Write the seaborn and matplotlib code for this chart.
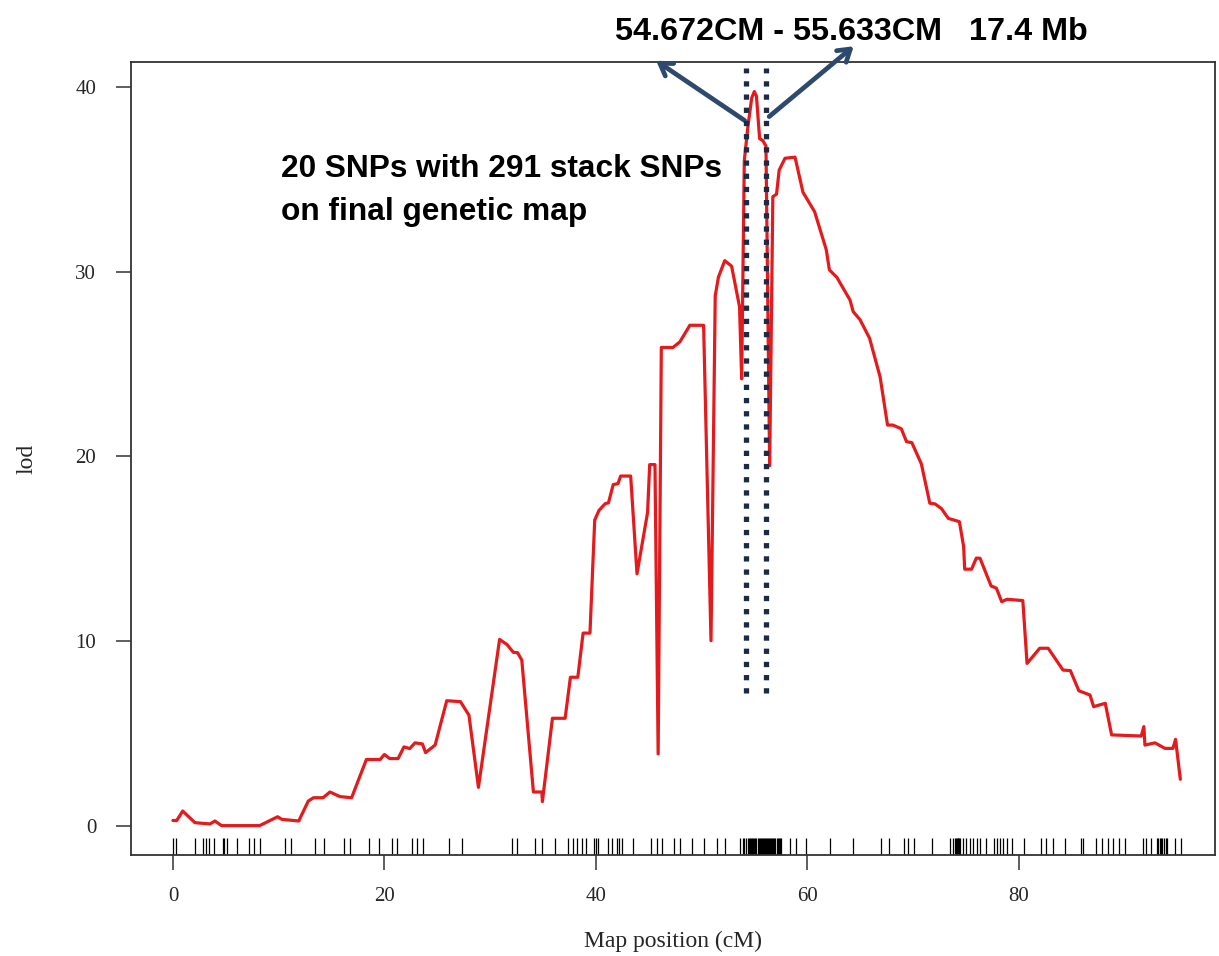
import numpy as np
import pandas as pd
import seaborn as sns
import matplotlib.pyplot as plt

# lod profile (map position in cM, lod)
pos = [0.0, 0.35, 0.92, 2.08, 3.5, 3.97, 4.6, 8.2, 9.9, 10.3, 11.9, 12.8, 13.3, 14.2,
       14.85, 15.8, 16.9, 18.3, 19.6, 20.0, 20.5, 21.3, 21.85, 22.4, 22.9, 23.6, 23.9,
       24.8, 25.9, 27.2, 28.0, 28.9, 30.9, 31.6, 32.2, 32.6, 33.0, 34.1, 34.9, 34.95,
       35.9, 37.1, 37.6, 38.3, 38.8, 39.45, 39.9, 40.3, 40.9, 41.2, 41.65, 42.1, 42.35,
       43.3, 43.9, 44.9, 45.1, 45.6, 45.9, 46.2, 47.3, 47.95, 48.9, 50.2, 50.9, 51.3,
       51.6, 52.2, 52.85, 53.6, 53.8, 54.05, 54.4, 54.75, 55.0, 55.2, 55.5, 55.8, 56.1,
       56.45, 56.75, 57.1, 57.35, 57.9, 58.85, 59.6, 60.7, 61.8, 62.1, 62.8, 64.05,
       64.35, 65.0, 65.9, 66.9, 67.6, 68.1, 68.9, 69.4, 69.9, 70.8, 71.6, 72.1, 72.7,
       73.35, 74.4, 74.8, 74.9, 75.55, 76.0, 76.35, 77.4, 77.9, 78.4, 78.9, 80.4, 80.8,
       82.0, 82.8, 84.2, 84.9, 85.7, 86.75, 87.1, 88.2, 88.8, 91.6, 91.85, 91.95, 92.9,
       93.85, 94.6, 94.85, 95.3]
lod = [0.30, 0.29, 0.81, 0.18, 0.11, 0.27, 0.02, 0.02, 0.50, 0.36, 0.27, 1.35, 1.53, 1.53,
       1.84, 1.59, 1.53, 3.60, 3.60, 3.87, 3.65, 3.65, 4.28, 4.19, 4.50, 4.44, 3.97,
       4.38, 6.78, 6.73, 6.00, 2.09, 10.1, 9.82, 9.4, 9.38, 8.98, 1.84, 1.84, 1.32,
       5.83, 5.83, 8.05, 8.05, 10.44, 10.44, 16.56, 17.08, 17.45, 17.49, 18.48, 18.53, 18.94,
       18.94, 13.65, 16.97, 19.56, 19.56, 3.9, 25.9, 25.9, 26.2, 27.1, 27.1, 10.03, 28.7,
       29.7, 30.6, 30.3, 28.1, 24.2, 36.0, 37.9, 39.4, 39.75, 39.5, 37.2, 37.1, 36.8,
       19.5, 34.06, 34.2, 35.5, 36.14, 36.2, 34.3, 33.25, 31.2, 30.1, 29.7, 28.47,
       27.84, 27.4, 26.4, 24.3, 21.7, 21.7, 21.5, 20.8, 20.75, 19.6, 17.47, 17.43, 17.18,
       16.65, 16.47, 15.12, 13.9, 13.9, 14.5, 14.49, 12.99, 12.87, 12.14, 12.27, 12.2, 8.8,
       9.62, 9.62, 8.44, 8.41, 7.32, 7.09, 6.46, 6.64, 4.93, 4.87, 5.38, 4.38, 4.5,
       4.2, 4.2, 4.69, 2.53]

# marker positions (rug along the x axis)
markers = [0.0, 0.27, 2.1, 2.88, 3.11, 3.38, 3.86, 4.74, 4.87, 5.08, 6.09, 7.17, 7.68, 8.26,
           10.56, 11.17, 13.43, 14.28, 16.21, 16.72, 18.51, 19.53, 20.71, 21.22, 22.57,
           23.08, 23.69, 26.12, 27.31, 32.05, 32.55, 34.25, 34.92, 36.18, 37.36, 37.8,
           38.24, 38.65, 39.05, 39.83, 40.0, 40.17, 41.18, 41.52, 42.03, 42.2, 42.44,
           43.55, 45.25, 45.75, 46.26, 47.44, 47.95, 49.1, 50.24, 51.45, 52.27, 53.64,
           53.9, 54.06, 54.22, 54.4, 54.5, 54.6, 54.7, 54.8, 54.9, 55.0, 55.1, 55.2, 55.3,
           55.4, 55.5, 55.6, 55.7, 55.8, 55.9, 56.0, 56.1, 56.2, 56.3, 56.4, 56.5, 56.6,
           56.7, 56.8, 56.9, 57.0, 57.1, 57.2, 57.3, 57.4, 57.5, 58.4, 58.96, 59.84,
           62.12, 64.34, 67.01, 67.77, 69.17, 69.56, 70.15, 71.78, 73.47, 73.8, 74.03,
           74.1, 74.17, 74.24, 74.31, 74.38, 74.45, 74.78, 75.04, 75.37, 75.69, 76.02,
           76.35, 76.9, 77.65, 77.98, 78.2, 78.53, 78.86, 79.35, 80.49, 82.12, 82.61,
           83.26, 84.4, 85.87, 86.13, 87.34, 87.9, 88.48, 88.97, 89.46, 90.11, 91.75,
           92.07, 92.56, 93.05, 93.2, 93.35, 93.5, 93.6, 93.75, 93.9, 94.03, 94.84, 95.33]

interval = [54.25, 56.1]   # dotted lines around the peak
x_ticks = [0, 20, 40, 60, 80]
y_ticks = [0, 10, 20, 30, 40]

df = pd.DataFrame({"pos": pos, "lod": lod})

sns.set_theme(style="white")
plt.rcParams["font.family"] = ["Liberation Serif", "DejaVu Serif"]

fig = plt.figure(figsize=(12.19, 9.56), dpi=100)
ax = fig.add_axes([131 / 1219, 101 / 956, 1084 / 1219, 793 / 956])

sns.lineplot(data=df, x="pos", y="lod", sort=False, estimator=None,
             color="#e41a1c", linewidth=2.3, ax=ax)
sns.rugplot(x=markers, height=0.021, color="black", linewidth=0.9,
            expand_margins=False, ax=ax)

# peak interval
for xv in interval:
    ax.plot([xv, xv], [7.2, 41.0], color="#1c2b45", linewidth=3.8,
            linestyle=(0, (1, 1.5)), clip_on=False, zorder=4)

arrow = dict(arrowstyle="->,head_length=0.7,head_width=0.45", color="#2d4a6e", lw=3.4)
ax.annotate("", xy=(45.5, 41.5), xytext=(54.3, 38.1), arrowprops=arrow,
            annotation_clip=False)
ax.annotate("", xy=(64.6, 42.3), xytext=(56.2, 38.3), arrowprops=arrow,
            annotation_clip=False)

ax.set_xlim(-3.97, 98.58)
ax.set_ylim(-1.57, 41.35)
ax.set_xticks(x_ticks)
ax.set_yticks(y_ticks)
ax.tick_params(axis="both", direction="out", length=11, width=1.1, color="#333333",
               labelsize=15, bottom=True, left=True)
ax.tick_params(axis="x", pad=12)
ax.tick_params(axis="y", pad=14)
for s in ax.spines.values():
    s.set_color("#333333")
    s.set_linewidth(1.3)

ax.set_xlabel("Map position (cM)", fontsize=17)
ax.set_ylabel("lod", fontsize=17)
ax.xaxis.set_label_coords(0.5, -0.096)
ax.yaxis.set_label_coords(-0.086, 0.5)

bold = ["Liberation Sans", "DejaVu Sans"]
fig.text(615 / 1219, 1 - 40 / 956, "54.672CM - 55.633CM   17.4 Mb", family=bold,
         fontweight="bold", fontsize=23.3, ha="left", va="baseline", color="black")
fig.text(281 / 1219, 1 - 177 / 956, "20 SNPs with 291 stack SNPs", family=bold,
         fontweight="bold", fontsize=22.8, ha="left", va="baseline", color="black")
fig.text(281 / 1219, 1 - 220 / 956, "on final genetic map", family=bold,
         fontweight="bold", fontsize=22.8, ha="left", va="baseline", color="black")

fig.savefig("out.png", dpi=100)
